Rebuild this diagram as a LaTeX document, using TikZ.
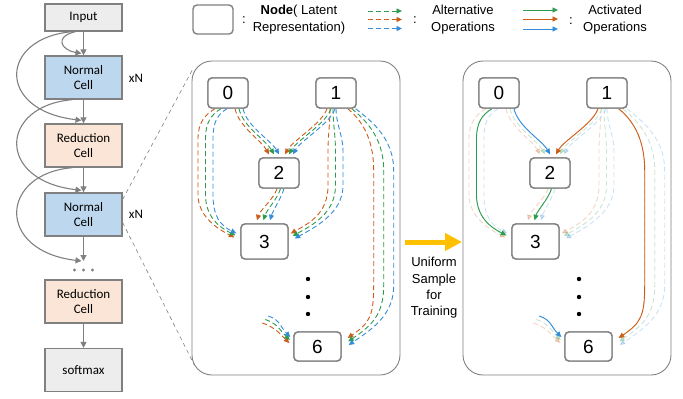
\documentclass[tikz,border=0pt]{standalone}
\usepackage{fontspec}
\setmainfont{Liberation Sans}
\newfontfamily\calfont{Carlito}
\usetikzlibrary{arrows.meta,calc}
\definecolor{opc}{RGB}{204,92,24}
\definecolor{gpc}{RGB}{44,156,78}
\definecolor{bpc}{RGB}{52,140,218}
\definecolor{bord}{RGB}{128,128,128}
\definecolor{inpfill}{RGB}{237,237,237}
\definecolor{normfill}{RGB}{189,215,238}
\definecolor{redfill}{RGB}{251,229,214}
\definecolor{yarr}{RGB}{255,192,0}
\tikzset{
  cellbox/.style={draw=bord,line width=1.3pt,minimum width=77,minimum height=43,inner sep=0pt,align=center,font=\calfont\fontsize{13}{15.5}\selectfont},
  gnode/.style={draw=bord,line width=1.4pt,fill=white,rounded corners=4pt,minimum width=40,minimum height=30,inner sep=0pt,font=\fontsize{19}{19}\selectfont},
  panelbox/.style={draw=bord,line width=0.9pt,rounded corners=20pt,minimum width=208,minimum height=314,inner sep=0pt},
  garrow/.style={draw=bord,line width=1.1pt,-{Triangle[length=6pt,width=6pt]}},
  tip/.style={-{Triangle[length=5.5pt,width=5pt]}},
  altline/.style={tip,line width=0.9pt,dash pattern=on 5pt off 3pt},
  fadeline/.style={altline,opacity=0.26},
  actline/.style={tip,line width=0.9pt},
  legtext/.style={align=center,font=\fontsize{13}{17}\selectfont,inner sep=0pt},
  coltext/.style={font=\fontsize{13}{13}\selectfont,inner sep=0pt},
  zoomline/.style={draw=bord,line width=0.6pt,dash pattern=on 4pt off 3.5pt},
}
% paths: #1 node prefix, #2 index k (0 orange, 1 green, 2 blue)
\newcommand\pZT[2]{([shift={(7+4*#2,0)}]#10.south) .. controls +(4,18) and +(-8,-14) .. ([shift={(-10+5*#2,-3)}]#12.north)}
\newcommand\pZH[2]{([shift={(-13+6*#2,0)}]#10.south) .. controls +(-10,6) and +(0,-16) .. ($(#10.south)+(-30+7.5*#2,30)$) -- ($(#10.south)+(-30+7.5*#2,86)$) .. controls +(0,22) and +(-16,-8) .. ([shift={(-6+1*#2,14-2*#2)}]#13.north west)}
\newcommand\pOT[2]{([shift={(-9+4*#2,0)}]#11.south) .. controls +(-5,15) and +(8,-14) .. ([shift={(6+4*#2,-3)}]#12.north)}
\newcommand\pTH[2]{([shift={(-2+3.5*#2,0)}]#12.south) .. controls +(-3,10) and +(3,-10) .. ([shift={(-7.5+6.5*#2,-3)}]#13.north)}
\newcommand\pOH[2]{([shift={(-6+3*#2,0)}]#11.south) .. controls +(0,15) and +(0,-15) .. ($(#11.south)+(-8+7.5*#2,42)$) -- ($(#11.south)+(-8+7.5*#2,77)$) .. controls +(0,28) and +(18,-10) .. ([shift={(2+2*#2,-8+2.5*#2)}]#13.east)}
\newcommand\pOS[2]{([shift={(-9+4*#2,0)}]#11.south east) .. controls +(12,10) and +(0,-35) .. ($(#11.south east)+(17+10*#2,62)$) -- ($(#11.south east)+(17+10*#2,177)$) .. controls +(0,30) and +(22,-15) .. ([shift={(6+0.5*#2,-8.5+3.5*#2)}]#16.east)}
\newcommand\pS[2]{([shift={(-31+3*#2,-23.5-3.5*#2)}]#16.west) .. controls +(12,4) and +(-10,-10) .. ([shift={(-4+0.5*#2,-3.5-3*#2)}]#16.west)}
\newcommand\alledges[2]{%
  \foreach \k/\c in {0/opc,1/gpc,2/bpc}{
    \draw[#2,draw=\c] \pZT{#1}{\k};
    \draw[#2,draw=\c] \pZH{#1}{\k};
    \draw[#2,draw=\c] \pOT{#1}{\k};
    \draw[#2,draw=\c] \pTH{#1}{\k};
    \draw[#2,draw=\c] \pOH{#1}{\k};
    \draw[#2,draw=\c] \pOS{#1}{\k};
    \draw[#2,draw=\c] \pS{#1}{\k};
  }}
\begin{document}
\begin{tikzpicture}[x=1pt,y=-1pt]
\useasboundingbox (0,0) rectangle (683,399);
% ---------- left column ----------
\node[cellbox,fill=inpfill,minimum height=27] (inp) at (83.5,17.5) {Input};
\node[cellbox,fill=normfill] (nc1) at (83.5,77.5) {Normal\\Cell};
\node[cellbox,fill=redfill] (rc1) at (83.5,145.5) {Reduction\\Cell};
\node[cellbox,fill=normfill] (nc2) at (83.5,214.5) {Normal\\Cell};
\node[cellbox,fill=redfill] (rc2) at (83.5,301.5) {Reduction\\Cell};
\node[cellbox,fill=inpfill] (sm) at (83.5,370) {softmax};
\node[coltext,font=\calfont\fontsize{13}{13}\selectfont] (xn1) at (136,78) {xN};
\node[coltext,font=\calfont\fontsize{13}{13}\selectfont] (xn2) at (136,214) {xN};
\foreach \xx/\nm in {74.5/d1,83.5/d2,92.5/d3}{\fill[bord] (\xx,270) circle (1.6) coordinate (\nm);}
\coordinate (dtop) at (83.5,261);
\draw[garrow] (inp) -- (nc1);
\draw[garrow] (nc1) -- (rc1);
\draw[garrow] (rc1) -- (nc2);
\draw[garrow] (nc2) -- (dtop);
\draw[garrow] (rc2) -- (sm);
\draw[garrow] ([xshift=-8]inp.south) .. controls +(-22,5) and +(-20,-3) .. ([xshift=-2,yshift=2]nc1.north);
\draw[garrow] ([xshift=-11]inp.south) .. controls +(-73,6) and +(-86,-10) .. ([xshift=-2,yshift=3]rc1.north);
\draw[garrow] ([xshift=-11]nc1.south) .. controls +(-73,6) and +(-86,-10) .. ([xshift=-2,yshift=2]nc2.north);
\draw[garrow] ([xshift=-11]rc1.south) .. controls +(-73,6) and +(-86,-10) .. ([xshift=-2]dtop);
% ---------- panels ----------
\node[panelbox] (pa) at (296,218) {};
\node[panelbox] (pb) at (567,218) {};
\draw[zoomline] ([yshift=-7]nc2.north east) -- ([shift={(1,9)}]pa.north west);
\draw[zoomline] ([yshift=-8]nc2.east) -- ([shift={(3,-10)}]pa.south west);
% panel A nodes
\node[gnode] (a0) at (228,93) {0};
\node[gnode] (a1) at (336,93) {1};
\node[gnode] (a2) at (279,173) {2};
\node[gnode,minimum width=47,minimum height=35] (a3) at (264.5,241.5) {3};
\node[gnode,minimum width=47,minimum height=29] (a6) at (317.5,346.5) {6};
\foreach \yy/\nm in {279/ad1,297/ad2,314/ad3}{\fill (308,\yy) circle (2.2) coordinate (\nm);}
\alledges{a}{altline}
% panel B nodes
\begin{scope}[shift={(271,0)}]
\node[gnode] (b0) at (228,93) {0};
\node[gnode] (b1) at (336,93) {1};
\node[gnode] (b2) at (279,173) {2};
\node[gnode,minimum width=47,minimum height=35] (b3) at (264.5,241.5) {3};
\node[gnode,minimum width=47,minimum height=29] (b6) at (317.5,346.5) {6};
\foreach \yy/\nm in {279/bd1,297/bd2,314/bd3}{\fill (308,\yy) circle (2.2) coordinate (\nm);}
\end{scope}
\alledges{b}{fadeline}
\draw[actline,draw=bpc] \pZT{b}{2};
\draw[actline,draw=gpc] \pZH{b}{1};
\draw[actline,draw=opc] \pOT{b}{0};
\draw[actline,draw=gpc] \pTH{b}{1};
\draw[actline,draw=opc] \pOS{b}{0};
\draw[actline,draw=bpc] \pS{b}{2};
% redraw nodes on top
\foreach \p in {a,b}{
  \node[gnode] at (\p0) {0};
  \node[gnode] at (\p1) {1};
  \node[gnode] at (\p2) {2};
  \node[gnode,minimum width=47,minimum height=35] at (\p3) {3};
  \node[gnode,minimum width=47,minimum height=29] at (\p6) {6};
}
% ---------- middle arrow ----------
\coordinate (ys) at (405,242);
\coordinate (ye) at (462,242);
\draw[yarr,line width=5pt,-{Triangle[length=17pt,width=17pt]}] (ys) -- (ye);
\node[legtext,font=\fontsize{13}{16.3}\selectfont] (uni) at (434,288) {Uniform\\Sample\\for\\Training};
% ---------- legend ----------
\node[gnode,minimum width=40,minimum height=29] (lg) at (213,19.5) {};
\node[legtext] (c1) at (244,20) {:};
\node[legtext] (lt1) at (299,19.5) {\textbf{Node}( Latent\\Representation)};
\foreach \yy/\c/\nm in {11/gpc/la,19.5/opc/lb,28.5/bpc/lc}{
  \coordinate (\nm s) at (368,\yy); \coordinate (\nm e) at (402,\yy);
  \draw[altline,draw=\c] (\nm s) -- (\nm e);}
\node[legtext] (c2) at (415,20) {:};
\node[legtext] (lt2) at (463,19.5) {Alternative\\Operations};
\foreach \yy/\c/\nm in {10/gpc/ma,19/opc/mb,29/bpc/mc}{
  \coordinate (\nm s) at (523,\yy); \coordinate (\nm e) at (558,\yy);
  \draw[actline,draw=\c] (\nm s) -- (\nm e);}
\node[legtext] (c3) at (571,21) {:};
\node[legtext] (lt3) at (615,20) {Activated\\Operations};
\end{tikzpicture}
\end{document}
